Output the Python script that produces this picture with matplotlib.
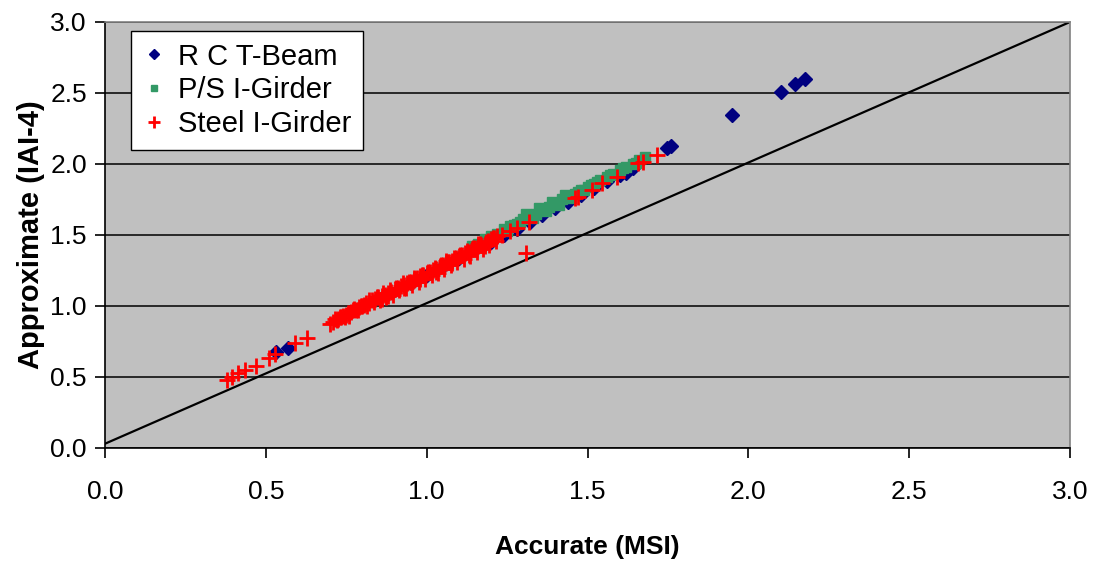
#!/usr/bin/env python3
# Wykres porównania: wartości przybliżone (IAI-4) vs dokładne (MSI).
import matplotlib
matplotlib.use("Agg")
import matplotlib.pyplot as plt

# R C T-Beam (romby)
rc_x = [0.533, 0.570,
        0.95, 1.00, 1.05, 1.10, 1.15, 1.20, 1.24, 1.28, 1.32, 1.36, 1.40, 1.44,
        1.48, 1.52, 1.56, 1.60, 1.62, 1.64, 1.746, 1.761,
        1.95, 2.10, 2.145, 2.176]
rc_y = [0.678, 0.702,
        1.16, 1.22, 1.28, 1.34, 1.40, 1.45, 1.50, 1.54, 1.59, 1.64, 1.69, 1.73,
        1.78, 1.83, 1.88, 1.92, 1.94, 1.97, 2.11, 2.127,
        2.345, 2.51, 2.56, 2.60]

# P/S I-Girder (kwadraty)
ps_x = [1.14, 1.16, 1.18, 1.20, 1.22, 1.24, 1.26, 1.28, 1.30, 1.32, 1.34, 1.36,
        1.38, 1.40, 1.42, 1.44, 1.46, 1.48, 1.50, 1.52, 1.54, 1.56, 1.58, 1.60,
        1.62, 1.64, 1.66, 1.68,
        1.31, 1.35, 1.39, 1.43, 1.33, 1.37, 1.41, 1.45,
        1.25, 1.27, 1.29, 1.47, 1.49, 1.51, 1.53, 1.57, 1.61, 1.65]
ps_y = [1.42, 1.44, 1.47, 1.49, 1.51, 1.54, 1.56, 1.58, 1.61, 1.63, 1.65, 1.68,
        1.70, 1.72, 1.75, 1.77, 1.79, 1.82, 1.84, 1.86, 1.89, 1.91, 1.93, 1.96,
        1.98, 2.00, 2.03, 2.05,
        1.65, 1.69, 1.73, 1.78, 1.62, 1.67, 1.71, 1.76,
        1.53, 1.57, 1.59, 1.80, 1.82, 1.85, 1.87, 1.92, 1.97, 2.01]

# Steel I-Girder (krzyżyki)
st_x = [0.378, 0.394, 0.414, 0.435, 0.470, 0.511, 0.528, 0.592, 0.627,
        0.70, 0.71, 0.72, 0.725, 0.73, 0.74, 0.745, 0.75, 0.76, 0.765, 0.77,
        0.78, 0.79, 0.795, 0.80, 0.81, 0.82, 0.83, 0.84, 0.85, 0.86, 0.87,
        0.88, 0.89, 0.90, 0.91, 0.92, 0.93, 0.94, 0.95, 0.96, 0.97, 0.98,
        0.99, 1.00, 1.01, 1.02, 1.03, 1.04, 1.05, 1.06, 1.07, 1.08, 1.09,
        1.10, 1.11, 1.12, 1.13, 1.14, 1.15, 1.16, 1.17, 1.18, 1.19, 1.20,
        1.21, 1.22,
        0.76, 0.82, 0.88, 0.93, 0.98, 1.03, 1.08, 1.13, 1.18, 0.86, 0.96,
        1.06, 1.16,
        0.715, 0.735, 0.755, 0.775, 0.785, 0.805, 0.815, 0.835, 0.845, 0.855,
        0.865, 0.875, 0.885, 0.895, 0.905, 0.915, 0.925, 0.935, 0.945, 0.955,
        0.965, 0.975, 0.985, 0.995, 1.005, 1.015, 1.025, 1.035, 1.045, 1.055,
        1.065, 1.075, 1.085, 1.095, 1.105, 1.115, 1.125, 1.135, 1.145, 1.155,
        1.165, 1.175, 1.185, 1.195, 1.205, 1.215, 1.235,
        1.259, 1.28, 1.31, 1.319, 1.461, 1.47, 1.513, 1.544, 1.592, 1.657,
        1.672, 1.716]
st_y = [0.480, 0.500, 0.525, 0.550, 0.578, 0.636, 0.662, 0.737, 0.772,
        0.875, 0.89, 0.90, 0.91, 0.92, 0.93, 0.925, 0.94, 0.95, 0.955, 0.97,
        0.975, 0.99, 1.00, 1.00, 1.02, 1.02, 1.04, 1.05, 1.06, 1.07, 1.08,
        1.09, 1.10, 1.12, 1.13, 1.14, 1.15, 1.16, 1.17, 1.18, 1.20, 1.21,
        1.22, 1.23, 1.24, 1.25, 1.26, 1.28, 1.29, 1.30, 1.31, 1.32, 1.34,
        1.35, 1.36, 1.37, 1.38, 1.40, 1.41, 1.42, 1.43, 1.44, 1.46, 1.47,
        1.48, 1.49,
        0.93, 1.04, 1.07, 1.13, 1.19, 1.24, 1.30, 1.36, 1.42, 1.05, 1.20,
        1.32, 1.44,
        0.91, 0.92, 0.95, 0.98, 0.97, 1.01, 1.00, 1.03, 1.06, 1.04,
        1.09, 1.06, 1.11, 1.08, 1.13, 1.11, 1.16, 1.13, 1.17, 1.15,
        1.19, 1.17, 1.22, 1.19, 1.24, 1.22, 1.27, 1.23, 1.29, 1.26,
        1.31, 1.29, 1.34, 1.31, 1.36, 1.33, 1.39, 1.35, 1.41, 1.38,
        1.44, 1.40, 1.45, 1.43, 1.48, 1.46, 1.50,
        1.528, 1.55, 1.37, 1.594, 1.758, 1.77, 1.82, 1.864, 1.91, 2.007,
        2.016, 2.063]

# Linia odniesienia
ref_x = [0.0, 3.0]
ref_y = [0.03, 3.0]

ticks = [0.0, 0.5, 1.0, 1.5, 2.0, 2.5, 3.0]

plt.rcParams["font.family"] = ["Liberation Sans", "DejaVu Sans"]

fig = plt.figure(figsize=(10.95, 5.77), dpi=100)
ax = fig.add_axes([0.0959, 0.2236, 0.8813, 0.7383])
ax.set_facecolor("#C0C0C0")

ax.set_xlim(0, 3)
ax.set_ylim(0, 3)
ax.set_xticks(ticks)
ax.set_yticks(ticks)
ax.set_xticklabels([f"{t:.1f}" for t in ticks])
ax.set_yticklabels([f"{t:.1f}" for t in ticks])
ax.yaxis.grid(True, color="black", linewidth=1.1)
ax.set_axisbelow(True)

ax.plot(ref_x, ref_y, color="black", linewidth=1.6, zorder=2)

ax.plot(rc_x, rc_y, linestyle="none", marker="D", color="#000080",
        markersize=7, label="R C T-Beam", zorder=3)
ax.plot(ps_x, ps_y, linestyle="none", marker="s", color="#339966",
        markersize=7, label="P/S I-Girder", zorder=4)
ax.plot(st_x, st_y, linestyle="none", marker="+", color="#FF0000",
        markersize=12, markeredgewidth=2.0, label="Steel I-Girder", zorder=5)

for side in ["top", "right"]:
    ax.spines[side].set_color("#808080")
    ax.spines[side].set_linewidth(1.2)
for side in ["left", "bottom"]:
    ax.spines[side].set_color("black")
    ax.spines[side].set_linewidth(1.2)

ax.tick_params(axis="both", direction="out", length=7, width=1.2, labelsize=19)
ax.tick_params(axis="x", pad=16)
ax.tick_params(axis="y", pad=6)

ax.set_xlabel("Accurate (MSI)", fontsize=19, fontweight="bold")
ax.set_ylabel("Approximate (IAI-4)", fontsize=21, fontweight="bold")
ax.xaxis.set_label_coords(0.5, -0.205)
ax.yaxis.set_label_coords(-0.062, 0.5)

leg = ax.legend(loc="upper left", bbox_to_anchor=(0.027, 0.979), borderaxespad=0,
                frameon=True, fancybox=False, framealpha=1, edgecolor="black",
                prop={"size": 21},
                handlelength=0.8, handletextpad=0.4, labelspacing=0.2,
                borderpad=0.4, markerscale=0.7)
leg.get_frame().set_linewidth(1.0)

fig.savefig("out.png", dpi=100)
